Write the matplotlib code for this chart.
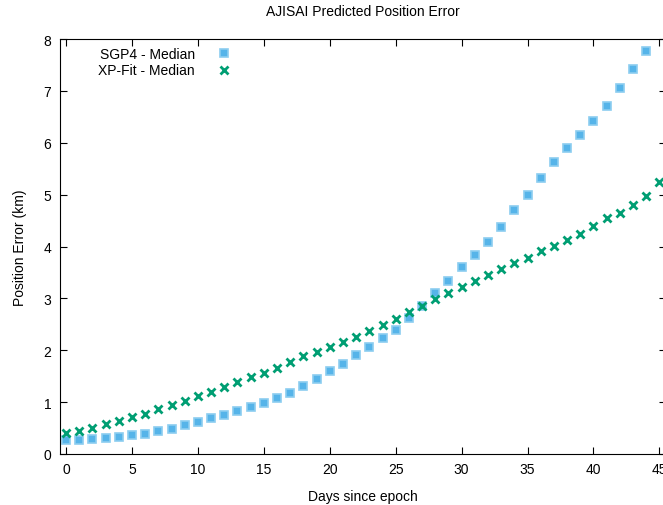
import matplotlib
matplotlib.use("Agg")
import matplotlib.pyplot as plt
import numpy as np

plt.rcParams['font.family'] = ['Liberation Sans', 'DejaVu Sans']

# days since epoch
days_sgp4 = np.arange(0, 45)
days_xp = np.arange(0, 46)

# median position error (km)
sgp4_median = [0.27, 0.27, 0.29, 0.31, 0.33, 0.36, 0.39, 0.44, 0.49, 0.56,
               0.62, 0.69, 0.76, 0.82, 0.91, 0.98, 1.08, 1.18, 1.31, 1.45,
               1.60, 1.74, 1.90, 2.06, 2.24, 2.40, 2.62, 2.86, 3.10, 3.34,
               3.60, 3.84, 4.09, 4.38, 4.70, 5.00, 5.32, 5.62, 5.89, 6.15,
               6.42, 6.70, 7.05, 7.42, 7.77]
xp_median = [0.40, 0.44, 0.50, 0.57, 0.63, 0.71, 0.78, 0.86, 0.95, 1.03,
             1.12, 1.20, 1.30, 1.38, 1.48, 1.56, 1.66, 1.77, 1.88, 1.97,
             2.06, 2.16, 2.26, 2.37, 2.48, 2.61, 2.73, 2.86, 2.99, 3.11,
             3.22, 3.34, 3.45, 3.57, 3.68, 3.78, 3.92, 4.01, 4.13, 4.25,
             4.40, 4.54, 4.65, 4.80, 4.97, 5.25]

fig = plt.figure(figsize=(6.63, 5.06), dpi=100)
ax = fig.add_axes([59.5 / 663, 51 / 506, (666 - 59.5) / 663, 415 / 506])

ax.plot(days_sgp4, sgp4_median, linestyle="none", marker="s",
        markersize=5.5, markeredgewidth=1.2, markeredgecolor="#8ccdf0",
        color="#56b4e9", label="SGP4 - Median")
ax.plot(days_xp, xp_median, linestyle="none", marker="x",
        markersize=5.5, markeredgewidth=2, color="#009e73",
        label="XP-Fit - Median")

ax.set_xlim(-0.5, 45.5)
ax.set_ylim(0, 8)
ax.set_xticks(np.arange(0, 46, 5))
ax.set_yticks(np.arange(0, 9, 1))
ax.tick_params(direction="in", top=True, right=True, length=5,
               labelsize=10, pad=6)

ax.set_title("AJISAI Predicted Position Error", fontsize=10, pad=17)
ax.set_xlabel("Days since epoch", fontsize=10, labelpad=9)
ax.set_ylabel("Position Error (km)", fontsize=10, labelpad=12)

ax.legend(loc="upper left", frameon=False, markerfirst=False,
          fontsize=10, handletextpad=1.1, borderaxespad=0.2,
          labelspacing=0.15, bbox_to_anchor=(0.05, 1.0))

fig.savefig("out.png", dpi=100)
